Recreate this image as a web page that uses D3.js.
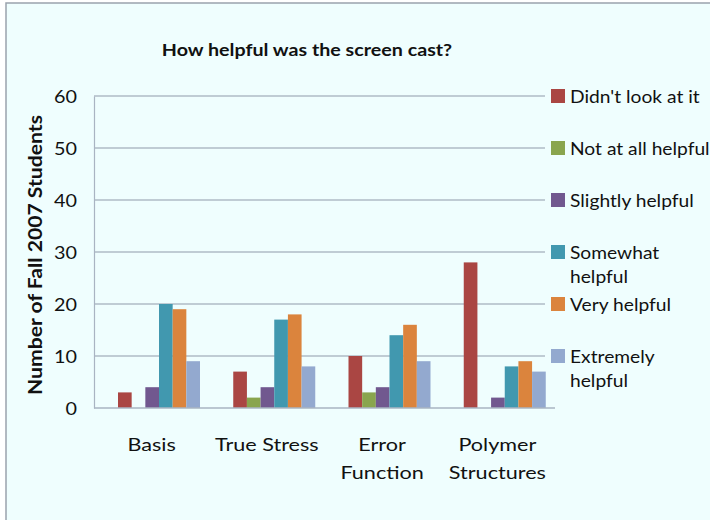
<!DOCTYPE html>
<html>
<head>
<meta charset="utf-8">
<script src="https://cdn.jsdelivr.net/npm/d3@7"></script>
<style>
  body { margin: 0; background: #fff; }
  text { font-family: Lato, "Open Sans", sans-serif; fill: #111; }
</style>
</head>
<body>
<div id="chart"></div>
<script>
var categories = [["Basis"], ["True Stress"], ["Error", "Function"], ["Polymer", "Structures"]];
var series = ["Didn't look at it", "Not at all helpful", "Slightly helpful", "Somewhat helpful", "Very helpful", "Extremely helpful"];
var legendLines = [["Didn't look at it"], ["Not at all helpful"], ["Slightly helpful"], ["Somewhat", "helpful"], ["Very helpful"], ["Extremely", "helpful"]];
var colors = ["#AA4643", "#89A54E", "#71588F", "#4198AF", "#DB843D", "#93A9CF"];
// rows = categories, columns = series
var values = [
  [3, 0, 4, 20, 19, 9],
  [7, 2, 4, 17, 18, 8],
  [10, 3, 4, 14, 16, 9],
  [28, 0, 2, 8, 9, 7]
];
var yTicks = [0, 10, 20, 30, 40, 50, 60];

(function() {
  var width = 710, height = 520;
  var left = 94, right = 555, plotTop = 96, bottom = 408;

  // the reference looks horizontally stretched, so widen the glyphs a bit
  function stretch(sel, k) {
    sel.each(function() {
      var len = this.getComputedTextLength();
      d3.select(this).attr("textLength", len * k).attr("lengthAdjust", "spacingAndGlyphs");
    });
  }

  var svg = d3.select("#chart").append("svg")
      .attr("width", width)
      .attr("height", height);

  // frame
  svg.append("rect")
      .attr("x", 6).attr("y", 3)
      .attr("width", 720).attr("height", 540)
      .attr("fill", "#effefe")
      .attr("stroke", "#9aa3ad")
      .attr("stroke-width", 1.5);

  var y = d3.scaleLinear().domain([0, 60]).range([bottom, plotTop]);
  var x = d3.scaleBand().domain(d3.range(categories.length)).range([left, right]);
  var bw = x.bandwidth();
  var xs = d3.scaleBand().domain(d3.range(series.length)).range([24, 24 + 82]);

  // gridlines
  svg.selectAll(".grid")
    .data(yTicks.filter(function(d) { return d > 0; }))
    .enter().append("line")
      .attr("class", "grid")
      .attr("x1", left).attr("x2", 545)
      .attr("y1", function(d) { return y(d); })
      .attr("y2", function(d) { return y(d); })
      .attr("stroke", "#8f9aaa")
      .attr("stroke-width", 1.2);

  // y axis
  var yAxis = svg.append("g")
      .attr("transform", "translate(" + left + ",0)")
      .call(d3.axisLeft(y).tickValues(yTicks).tickSize(0).tickPadding(17));
  yAxis.select(".domain").attr("stroke", "#a9b4c2").attr("stroke-width", 1.2);
  yAxis.selectAll("text")
      .style("font-family", "Lato")
      .style("font-size", "18px")
      .attr("fill", "#111")
      .attr("dy", "0.36em")
      .call(stretch, 1.1);

  // bars
  var groups = svg.selectAll(".group")
    .data(values)
    .enter().append("g")
      .attr("class", "group")
      .attr("transform", function(d, i) { return "translate(" + x(i) + ",0)"; });

  groups.selectAll("rect")
    .data(function(d) { return d; })
    .enter().append("rect")
      .attr("x", function(d, j) { return xs(j); })
      .attr("width", xs.bandwidth())
      .attr("y", function(d) { return y(d); })
      .attr("height", function(d) { return bottom - y(d); })
      .attr("fill", function(d, j) { return colors[j]; });

  // x axis line
  svg.append("line")
      .attr("x1", left).attr("x2", right)
      .attr("y1", bottom).attr("y2", bottom)
      .attr("stroke", "#a9b4c2")
      .attr("stroke-width", 1.5);

  // x labels
  svg.selectAll(".xlab")
    .data(categories)
    .enter().append("text")
      .attr("class", "xlab")
      .attr("text-anchor", "middle")
      .style("font-size", "18px")
      .attr("x", function(d, i) { return x(i) + bw / 2; })
      .attr("y", 451)
      .selectAll("tspan")
      .data(function(d) { return d; })
      .enter().append("tspan")
        .attr("x", function() { return d3.select(this.parentNode).attr("x"); })
        .attr("dy", function(d, k) { return k === 0 ? 0 : 28; })
        .text(function(d) { return d; })
        .call(stretch, 1.2);

  // title
  svg.append("text")
      .attr("x", 307).attr("y", 56)
      .attr("text-anchor", "middle")
      .style("font-size", "16.4px")
      .style("font-weight", "bold")
      .text("How helpful was the screen cast?")
      .call(stretch, 1.2);

  // y title
  svg.append("text")
      .attr("transform", "translate(42,255) rotate(-90)")
      .attr("text-anchor", "middle")
      .style("font-size", "19px")
      .style("font-weight", "bold")
      .text("Number of Fall 2007 Students")
      .attr("textLength", 280)
      .attr("lengthAdjust", "spacingAndGlyphs");

  // legend
  var legend = svg.selectAll(".legend")
    .data(legendLines)
    .enter().append("g")
      .attr("class", "legend")
      .attr("transform", function(d, i) { return "translate(551," + y(60 - i * 10) + ")"; });

  legend.append("rect")
      .attr("x", 0).attr("y", -7)
      .attr("width", 14).attr("height", 14)
      .attr("fill", function(d, i) { return colors[i]; });

  legend.append("text")
      .attr("x", 19).attr("y", 7)
      .style("font-size", "17px")
      .selectAll("tspan")
      .data(function(d) { return d; })
      .enter().append("tspan")
        .attr("x", 19)
        .attr("dy", function(d, k) { return k === 0 ? 0 : 24; })
        .text(function(d) { return d; })
        .call(stretch, 1.13);
})();
</script>
</body>
</html>
